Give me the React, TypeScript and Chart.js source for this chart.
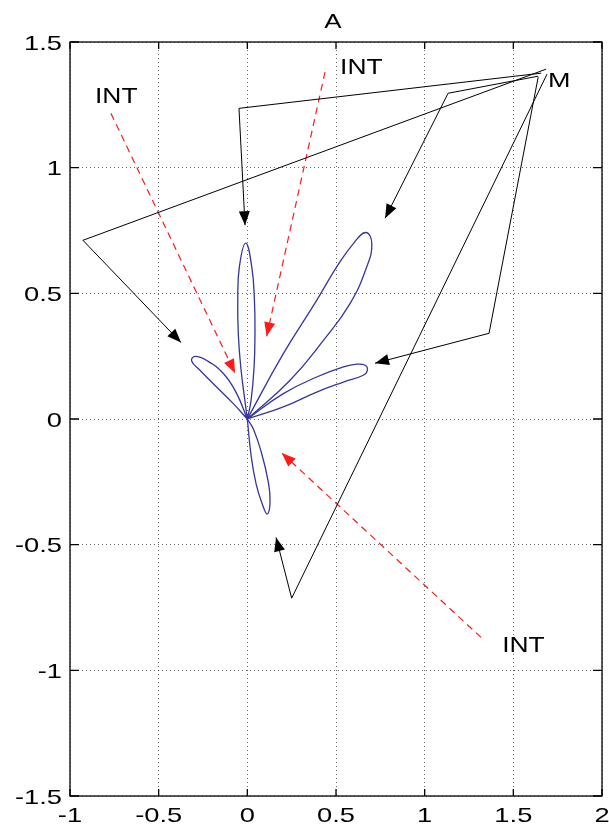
import React, { useEffect, useRef } from 'react';
import { Chart, registerables } from 'chart.js';
Chart.register(...registerables);

// ---- axis ticks ----
const xTicks = [-1, -0.5, 0, 0.5, 1, 1.5, 2];
const xTickLabels = ['-1', '-0.5', '0', '0.5', '1', '1.5', '2'];
const yTicks = [-1.5, -1, -0.5, 0, 0.5, 1, 1.5];
const yTickLabels = ['-1.5', '-1', '-0.5', '0', '0.5', '1', '1.5'];

// ---- blue lobes (outline points) ----
const lobeUp = [[0, 0], [-0.014, 0.074], [-0.037, 0.206], [-0.051, 0.339], [-0.054, 0.472], [-0.045, 0.605], [-0.009, 0.700], [0.025, 0.605], [0.040, 0.472], [0.043, 0.339], [0.038, 0.206], [0.021, 0.074], [0, 0]];
const lobeBig = [[0, 0], [0.203, 0.260], [0.391, 0.472], [0.504, 0.605], [0.598, 0.698], [0.668, 0.742], [0.702, 0.698], [0.673, 0.605], [0.579, 0.459], [0.429, 0.313], [0.241, 0.154], [0, 0]];
const lobeRight = [[0, 0], [0.203, 0.101], [0.391, 0.167], [0.542, 0.207], [0.617, 0.218], [0.664, 0.214], [0.677, 0.194], [0.654, 0.174], [0.542, 0.147], [0.391, 0.107], [0.203, 0.048], [0, 0]];
const lobeLeft = [[0, 0], [-0.060, 0.101], [-0.135, 0.181], [-0.229, 0.233], [-0.295, 0.249], [-0.314, 0.231], [-0.267, 0.194], [-0.173, 0.127], [-0.079, 0.061], [0, 0]];
const lobeDown = [[0, 0], [0.022, -0.150], [0.050, -0.260], [0.085, -0.340], [0.112, -0.378], [0.128, -0.330], [0.118, -0.250], [0.078, -0.130], [0.034, -0.040], [0, 0]];

// ---- black polylines from M, ending in arrows ----
const pathM1 = [[1.685, 1.392], [-0.927, 0.711], [-0.374, 0.304]];
const pathM2 = [[1.657, 1.376], [-0.047, 1.236], [-0.013, 0.771]];
const pathM3 = [[1.640, 1.364], [1.132, 1.296], [0.777, 0.799]];
const pathM4 = [[1.640, 1.360], [1.363, 0.341], [0.720, 0.222]];
const pathM5 = [[1.690, 1.372], [0.250, -0.713], [0.162, -0.471]];

// ---- red dashed INT arrows ----
const int1 = [[-0.769, 1.216], [-0.069, 0.182]];
const int2 = [[0.438, 1.380], [0.109, 0.329]];
const int3 = [[1.318, -0.869], [0.194, -0.135]];

// ---- text labels (data position of left baseline) ----
const labelTexts = ['INT', 'INT', 'INT', 'M'];
const labelX = [-0.859, 0.523, 1.437, 1.696];
const labelY = [1.256, 1.372, -0.929, 1.320];
const titleText = 'A';

const BLUE = '#3535a0';
const RED = '#ff1a1a';
const FONT = '"Liberation Sans", Arial, Helvetica, sans-serif';

const toXY = (arr: number[][]) => arr.map(([x, y]) => ({ x, y }));

function drawText(ctx: CanvasRenderingContext2D, text: string, x: number, y: number, align: CanvasTextAlign, size: number, sx: number) {
  ctx.save();
  ctx.translate(x, y);
  ctx.scale(sx, 1);
  ctx.font = `${size}px ${FONT}`;
  ctx.fillStyle = '#000';
  ctx.textAlign = align;
  ctx.textBaseline = 'alphabetic';
  ctx.fillText(text, 0, 0);
  ctx.restore();
}

const decorPlugin = {
  id: 'decor',
  afterDatasetsDraw(chart: any) {
    const ctx: CanvasRenderingContext2D = chart.ctx;
    chart.data.datasets.forEach((ds: any, i: number) => {
      if (!ds.arrowColor) return;
      const pts = chart.getDatasetMeta(i).data;
      const p1 = pts[pts.length - 2];
      const p2 = pts[pts.length - 1];
      const a = Math.atan2(p2.y - p1.y, p2.x - p1.x);
      const L = 14, W = 5.5;
      const c = Math.cos(a), s = Math.sin(a);
      ctx.save();
      ctx.fillStyle = ds.arrowColor;
      ctx.beginPath();
      ctx.moveTo(p2.x, p2.y);
      ctx.lineTo(p2.x - L * c + W * s, p2.y - L * s - W * c);
      ctx.lineTo(p2.x - L * c - W * s, p2.y - L * s + W * c);
      ctx.closePath();
      ctx.fill();
      ctx.restore();
    });
  },
  afterDraw(chart: any) {
    const ctx: CanvasRenderingContext2D = chart.ctx;
    const { left, right, top, bottom } = chart.chartArea;
    const xs = chart.scales.x;
    const ys = chart.scales.y;
    ctx.save();
    ctx.strokeStyle = '#000';
    ctx.lineWidth = 1.3;
    ctx.strokeRect(left, top, right - left, bottom - top);
    ctx.beginPath();
    xTicks.forEach((v) => {
      const px = xs.getPixelForValue(v);
      ctx.moveTo(px, bottom); ctx.lineTo(px, bottom - 7);
      ctx.moveTo(px, top); ctx.lineTo(px, top + 7);
    });
    yTicks.forEach((v) => {
      const py = ys.getPixelForValue(v);
      ctx.moveTo(left, py); ctx.lineTo(left + 9, py);
      ctx.moveTo(right, py); ctx.lineTo(right - 9, py);
    });
    ctx.stroke();
    ctx.restore();
    xTicks.forEach((v, i) => {
      drawText(ctx, xTickLabels[i], xs.getPixelForValue(v), bottom + 26, 'center', 21, 1.3);
    });
    yTicks.forEach((v, i) => {
      drawText(ctx, yTickLabels[i], left - 8, ys.getPixelForValue(v) + 7.5, 'right', 21, 1.3);
    });
    labelTexts.forEach((t, i) => {
      drawText(ctx, t, xs.getPixelForValue(labelX[i]), ys.getPixelForValue(labelY[i]), 'left', t === 'M' ? 20 : 22, t === 'M' ? 1.35 : 1.2);
    });
    drawText(ctx, titleText, (left + right) / 2 - 3, 28, 'center', 20, 1.3);
  },
};

export default function App() {
  const ref = useRef<HTMLCanvasElement | null>(null);
  useEffect(() => {
    if (!ref.current) return;
    const lobes = [lobeUp, lobeBig, lobeRight, lobeLeft, lobeDown];
    const blackPaths = [pathM1, pathM2, pathM3, pathM4, pathM5];
    const redPaths = [int1, int2, int3];
    const datasets: any[] = [
      ...lobes.map((l) => ({
        data: toXY(l), showLine: true, borderColor: BLUE, borderWidth: 1.3,
        pointRadius: 0, tension: 0.45, fill: false,
      })),
      ...blackPaths.map((l) => ({
        data: toXY(l), showLine: true, borderColor: '#000', borderWidth: 1,
        pointRadius: 0, tension: 0, fill: false, arrowColor: '#000',
      })),
      ...redPaths.map((l) => ({
        data: toXY(l), showLine: true, borderColor: RED, borderWidth: 1.2, borderDash: [7, 5],
        pointRadius: 0, tension: 0, fill: false, arrowColor: RED,
      })),
    ];
    const chart = new Chart(ref.current, {
      type: 'scatter',
      data: { datasets },
      options: {
        animation: false,
        responsive: false,
        devicePixelRatio: 1,
        layout: { padding: { left: 70, right: 7, top: 42, bottom: 28 } },
        plugins: { legend: { display: false }, tooltip: { enabled: false }, title: { display: false } },
        scales: {
          x: {
            type: 'linear', min: -1, max: 2,
            ticks: { display: false, stepSize: 0.5 },
            grid: { color: 'rgba(0,0,0,0.6)', lineWidth: 1, drawTicks: false },
            border: { display: false, dash: [1, 3] },
            afterFit: (s: any) => { s.height = 0; },
          },
          y: {
            type: 'linear', min: -1.5, max: 1.5,
            ticks: { display: false, stepSize: 0.5 },
            grid: { color: 'rgba(0,0,0,0.6)', lineWidth: 1, drawTicks: false },
            border: { display: false, dash: [1, 3] },
            afterFit: (s: any) => { s.width = 0; },
          },
        },
      } as any,
      plugins: [decorPlugin],
    });
    return () => chart.destroy();
  }, []);
  return (
    <div style={{ position: 'fixed', left: 0, top: 0, width: 609, height: 824, background: '#fff' }}>
      <canvas ref={ref} width={609} height={824} />
    </div>
  );
}
